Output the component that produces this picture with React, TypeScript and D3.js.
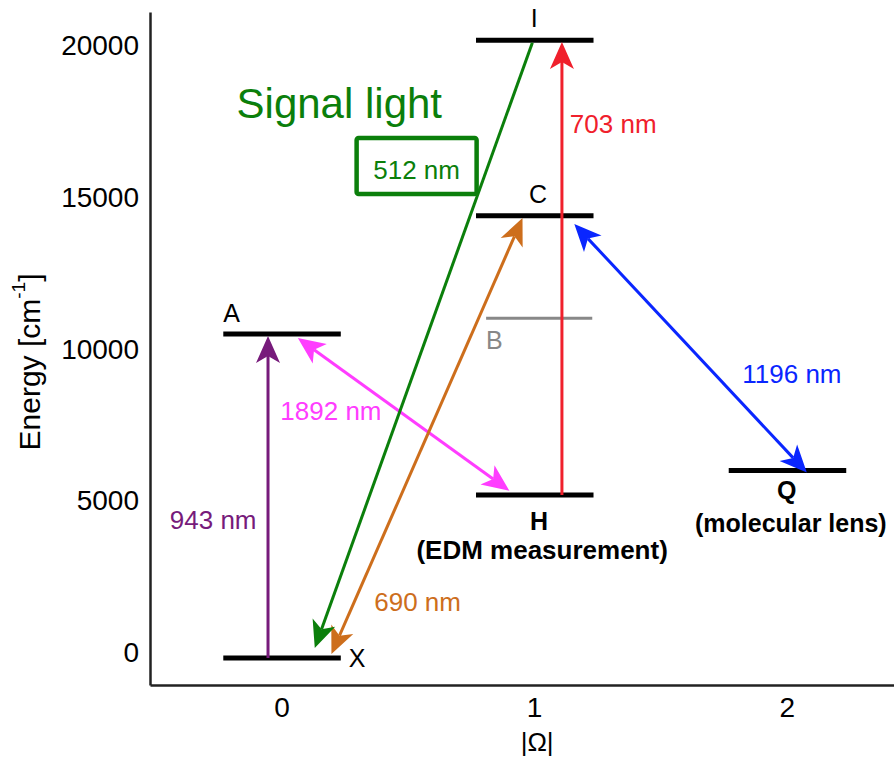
import React, { useRef, useEffect } from "react";
import * as d3 from "d3";

// energy levels
const levelNames = ["X", "A", "B", "C", "H", "I", "Q"];
const levelOmega = [0, 0, 1, 1, 1, 1, 2];
const levelEnergy = [-180, 10500, 11020, 14400, 5190, 20190, 6000];

// transitions: [omega, energy] of start and end
const transLabels = ["943 nm", "1892 nm", "690 nm", "512 nm", "703 nm", "1196 nm"];
const transFrom = [[-0.053, -180], [0.065, 10371], [0.198, -49], [0.993, 20109], [1.11, 5190], [1.159, 14130]];
const transTo = [[-0.053, 10437], [0.902, 5336], [0.954, 14328], [0.132, 148], [1.11, 20130], [2.079, 5936]];
const transHeads = ["end", "both", "both", "end", "end", "both"];
const transColors = ["#771b7b", "#ff3dff", "#cd6e1c", "#0b7f0b", "#f0202c", "#0a26ff"];
const transLabelPos = [[-0.27, 4369], [0.196, 7963], [0.539, 1665], [0.535, 15911], [1.313, 17427], [2.02, 9184]];

const yTicks = [0, 5000, 10000, 15000, 20000];
const xTicks = [0, 1, 2];

const W = 894;
const H = 759;
const FONT = "'Liberation Sans', Arial, Helvetica, sans-serif";

const App = () => {
  const svgRef = useRef(null);

  useEffect(() => {
    const svg = d3.select(svgRef.current);
    svg.selectAll("*").remove();

    const x = d3.scaleLinear().domain([-0.52, 2.424]).range([150, 894]);
    const y = d3.scaleLinear().domain([-1072, 21121]).range([685, 12]);

    // axes
    const yAxis = svg
      .append("g")
      .attr("transform", `translate(${x(-0.52)},0)`)
      .call(d3.axisLeft(y).tickValues(yTicks).tickSize(0).tickPadding(11).tickFormat(d3.format("d")));
    const xAxis = svg
      .append("g")
      .attr("transform", `translate(0,${y(-1072)})`)
      .call(d3.axisBottom(x).tickValues(xTicks).tickSize(0).tickPadding(12).tickFormat(d3.format("d")));
    [yAxis, xAxis].forEach((g) => {
      g.select(".domain").attr("stroke", "#222").attr("stroke-width", 2.5);
      g.selectAll("text").attr("font-family", FONT).attr("font-size", 28).attr("fill", "#000");
    });

    svg
      .append("text")
      .attr("transform", `translate(29,362) rotate(-90)`)
      .attr("text-anchor", "middle")
      .attr("dominant-baseline", "central")
      .attr("font-family", FONT)
      .attr("font-size", 30)
      .call((t) => {
        t.append("tspan").text("Energy [cm");
        t.append("tspan").attr("font-size", 19).attr("dy", -11).text("-1");
        t.append("tspan").attr("dy", 11).text("]");
      });

    svg
      .append("text")
      .attr("x", x(1) + 3)
      .attr("y", 742)
      .attr("text-anchor", "middle")
      .attr("dominant-baseline", "central")
      .attr("font-family", FONT)
      .attr("font-size", 26)
      .text("|Ω|");

    // levels
    levelNames.forEach((name, i) => {
      const grey = name === "B";
      svg
        .append("line")
        .attr("x1", x(levelOmega[i] + (grey ? -0.19 : -0.23)))
        .attr("x2", x(levelOmega[i] + (grey ? 0.23 : 0.235)))
        .attr("y1", y(levelEnergy[i]))
        .attr("y2", y(levelEnergy[i]))
        .attr("stroke", grey ? "#888" : "#000")
        .attr("stroke-width", grey ? 3 : 5);
    });

    // transitions
    const L = 27;
    const Wd = 12;
    const notch = 20;
    const head = (tx, ty, ux, uy) => {
      const px = -uy;
      const py = ux;
      const bx = tx - ux * L;
      const by = ty - uy * L;
      return `M${tx},${ty}L${bx + px * Wd},${by + py * Wd}L${tx - ux * notch},${ty - uy * notch}L${bx - px * Wd},${by - py * Wd}Z`;
    };
    transLabels.forEach((lab, i) => {
      const x1 = x(transFrom[i][0]);
      const y1 = y(transFrom[i][1]);
      const x2 = x(transTo[i][0]);
      const y2 = y(transTo[i][1]);
      const len = Math.hypot(x2 - x1, y2 - y1);
      const ux = (x2 - x1) / len;
      const uy = (y2 - y1) / len;
      const both = transHeads[i] === "both";
      const s = both ? notch : 0;
      svg
        .append("line")
        .attr("x1", x1 + ux * s)
        .attr("y1", y1 + uy * s)
        .attr("x2", x2 - ux * notch)
        .attr("y2", y2 - uy * notch)
        .attr("stroke", transColors[i])
        .attr("stroke-width", 3);
      svg.append("path").attr("d", head(x2, y2, ux, uy)).attr("fill", transColors[i]);
      if (both) svg.append("path").attr("d", head(x1, y1, -ux, -uy)).attr("fill", transColors[i]);

      const [lx, ly] = transLabelPos[i];
      svg
        .append("text")
        .attr("x", x(lx))
        .attr("y", y(ly))
        .attr("text-anchor", "middle")
        .attr("dominant-baseline", "central")
        .attr("font-family", FONT)
        .attr("font-size", 26)
        .attr("fill", transColors[i])
        .text(lab);
    });

    // signal light box around 512 nm
    const [bx, by] = transLabelPos[3];
    svg
      .append("rect")
      .attr("x", x(bx) - 60)
      .attr("y", y(by) - 32)
      .attr("width", 120)
      .attr("height", 56)
      .attr("fill", "none")
      .attr("stroke", transColors[3])
      .attr("stroke-width", 4.5)
      .attr("rx", 2);
    svg
      .append("text")
      .attr("x", x(0.229))
      .attr("y", y(18120))
      .attr("text-anchor", "middle")
      .attr("dominant-baseline", "central")
      .attr("font-family", FONT)
      .attr("font-size", 42)
      .attr("fill", transColors[3])
      .text("Signal light");

    // level labels
    const lbl = (tx, ty, txt, opts = {}) =>
      svg
        .append("text")
        .attr("x", tx)
        .attr("y", ty)
        .attr("text-anchor", opts.anchor || "middle")
        .attr("dominant-baseline", "central")
        .attr("font-family", FONT)
        .attr("font-size", opts.size || 25)
        .attr("font-weight", opts.bold ? "bold" : "normal")
        .attr("fill", opts.fill || "#000")
        .text(txt);
    const L_ = (n) => levelNames.indexOf(n);
    lbl(x(1), y(levelEnergy[L_("I")]) - 22, "I");
    lbl(x(1) + 4, y(levelEnergy[L_("C")]) - 22, "C");
    lbl(x(-0.23), y(levelEnergy[L_("A")]) - 21, "A", { anchor: "start" });
    lbl(x(0.235) + 8, y(levelEnergy[L_("X")]), "X", { anchor: "start" });
    lbl(x(0.81), y(levelEnergy[L_("B")]) + 22, "B", { anchor: "start", fill: "#888" });
    lbl(x(1) + 5, y(levelEnergy[L_("H")]) + 26, "H", { bold: true });
    lbl(x(1) + 8, y(levelEnergy[L_("H")]) + 55, "(EDM measurement)", { bold: true, size: 26 });
    lbl(x(2), y(levelEnergy[L_("Q")]) + 19, "Q", { bold: true });
    lbl(x(2) + 4, y(levelEnergy[L_("Q")]) + 52, "(molecular lens)", { bold: true });
  }, []);

  return (
    <svg
      ref={svgRef}
      width={W}
      height={H}
      style={{ position: "absolute", left: 0, top: 0, background: "#fff" }}
    ></svg>
  );
};

export default App;
